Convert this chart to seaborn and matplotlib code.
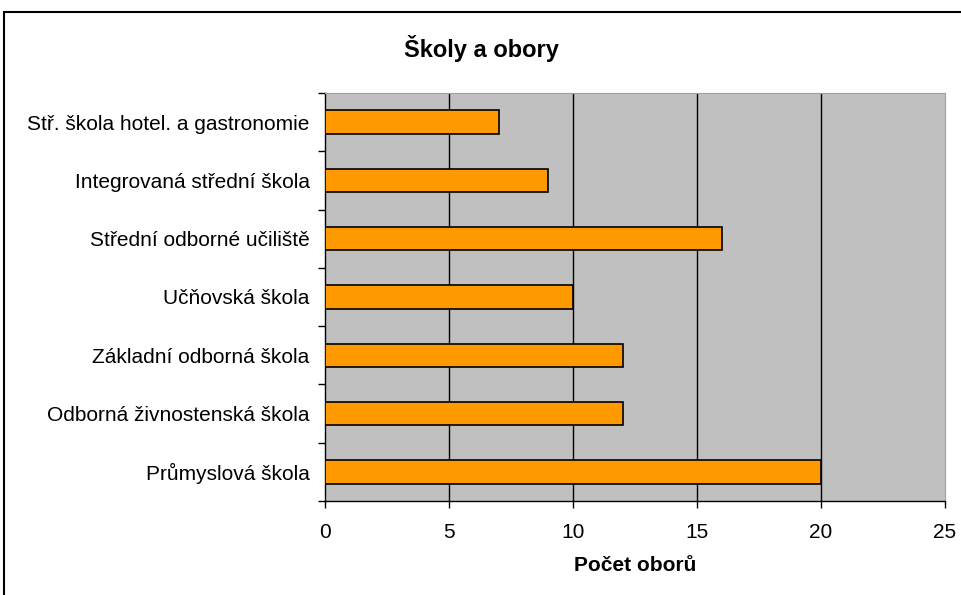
import matplotlib
matplotlib.use("Agg")
import matplotlib.pyplot as plt
import seaborn as sns
import pandas as pd
from matplotlib.patches import Rectangle
from matplotlib.ticker import FixedLocator

categories = ["Stř. škola hotel. a gastronomie", "Integrovaná střední škola",
              "Střední odborné učiliště", "Učňovská škola", "Základní odborná škola",
              "Odborná živnostenská škola", "Průmyslová škola"]
values = [7, 9, 16, 10, 12, 12, 20]
x_ticks = [0, 5, 10, 15, 20, 25]

df = pd.DataFrame({"cat": categories, "val": values})

sns.set_style("white")
plt.rcParams["font.family"] = ["Liberation Sans", "DejaVu Sans"]
plt.rcParams["text.color"] = "black"
plt.rcParams["xtick.color"] = "black"
plt.rcParams["ytick.color"] = "black"
plt.rcParams["axes.labelcolor"] = "black"

fig = plt.figure(figsize=(9.62, 5.95), dpi=100)
ax = fig.add_axes([325/962, 1-501/595, 620/962, 408/595])
ax.set_facecolor("#C0C0C0")

sns.barplot(data=df, x="val", y="cat", orient="h", color="#FF9900",
            edgecolor="black", linewidth=1.2, width=0.4, saturation=1, ax=ax, zorder=3)

ax.set_xlim(0, 25)
ax.set_ylim(len(categories) - 0.5, -0.5)
ax.set_xticks(x_ticks)
ax.set_xticklabels([str(t) for t in x_ticks], fontsize=15)
for t in x_ticks[1:-1]:
    ax.axvline(t, color="black", lw=1, zorder=1)

ax.tick_params(axis="y", which="major", length=0, labelsize=15, pad=11, labelcolor="black")
ax.yaxis.set_minor_locator(FixedLocator([i - 0.5 for i in range(len(categories) + 1)]))
ax.tick_params(axis="y", which="minor", length=5, width=1, color="black", left=True)
ax.tick_params(axis="x", which="major", length=5, width=1, color="black", bottom=True, pad=11,
               labelcolor="black")

ax.set_ylabel("")
ax.set_xlabel("Počet oborů", fontsize=15, fontweight="bold", labelpad=10, color="black")

for s in ["left", "bottom"]:
    ax.spines[s].set_color("black")
    ax.spines[s].set_linewidth(1)
for s in ["top", "right"]:
    ax.spines[s].set_color("#A0A0A0")
    ax.spines[s].set_linewidth(0.8)

fig.text(0.5, 1 - 48/595, "Školy a obory", ha="center", va="center",
         fontsize=17, fontweight="bold", color="black")

fig.patches.append(Rectangle((4/962, -0.05), 1.1, 1.05 - 12/595, transform=fig.transFigure,
                             fill=False, edgecolor="black", linewidth=1.5, zorder=10))

fig.savefig("out.png", dpi=100)
